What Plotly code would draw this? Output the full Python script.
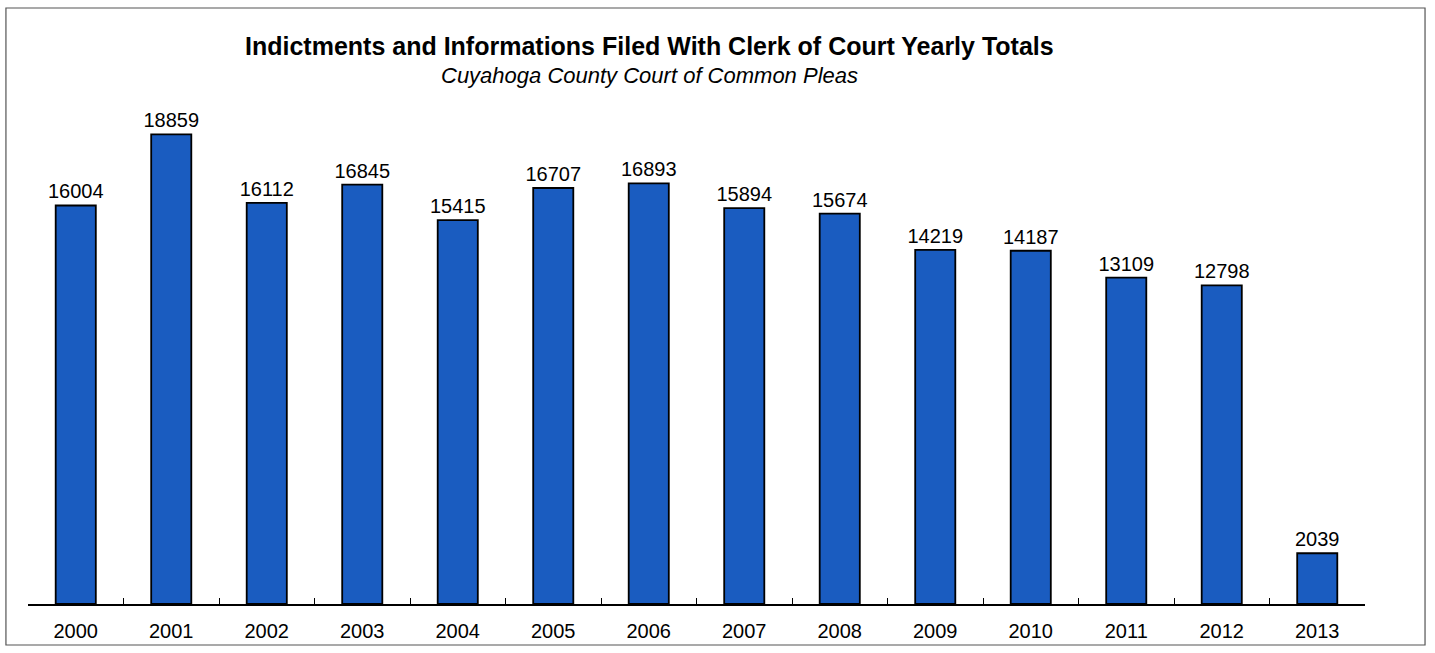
import plotly.graph_objects as go

years = ["2000", "2001", "2002", "2003", "2004", "2005", "2006",
         "2007", "2008", "2009", "2010", "2011", "2012", "2013"]
totals = [16004, 18859, 16112, 16845, 15415, 16707, 16893,
          15894, 15674, 14219, 14187, 13109, 12798, 2039]

title_text = "Indictments and Informations Filed With Clerk of Court Yearly Totals"
subtitle_text = "Cuyahoga County Court of Common Pleas"

fig = go.Figure()

fig.add_trace(go.Bar(
    x=years,
    y=totals,
    text=[str(v) for v in totals],
    textposition="outside",
    constraintext="none",
    textfont=dict(family="Liberation Sans, Arial", size=20, color="black"),
    marker=dict(color="#1a5cc0", line=dict(color="black", width=1.8)),
    cliponaxis=False,
))

fig.update_layout(
    width=1435,
    height=653,
    margin=dict(l=28, r=70, t=100, b=49),
    paper_bgcolor="white",
    plot_bgcolor="white",
    bargap=0.58,
    showlegend=False,
    font=dict(family="Liberation Sans, Arial", size=20, color="black"),
    xaxis=dict(
        type="category",
        showline=True,
        linecolor="black",
        linewidth=1.5,
        ticks="inside",
        tickson="boundaries",
        ticklen=6,
        tickcolor="black",
        showgrid=False,
        ticklabelstandoff=8,
        tickfont=dict(size=20),
    ),
    yaxis=dict(
        range=[0, 20240],
        visible=False,
        showgrid=False,
    ),
    annotations=[
        dict(text="<b>" + title_text + "</b>", xref="paper", yref="paper",
             x=0.465, y=1.107, yanchor="middle", showarrow=False,
             font=dict(family="Liberation Sans, Arial", size=25)),
        dict(text="<i>" + subtitle_text + "</i>", xref="paper", yref="paper",
             x=0.465, y=1.049, yanchor="middle", showarrow=False,
             font=dict(family="Liberation Sans, Arial", size=22)),
    ],
    shapes=[
        dict(type="rect", xref="paper", yref="paper",
             x0=-0.0165, x1=1.0449, y0=-0.0813, y1=1.1825,
             line=dict(color="#555555", width=1.2)),
    ],
)

# drop the page's default body margin so the figure sits at the window's corner
fig.write_html("out.html", config={"displayModeBar": False},
               post_script="document.body.style.margin='0';")
